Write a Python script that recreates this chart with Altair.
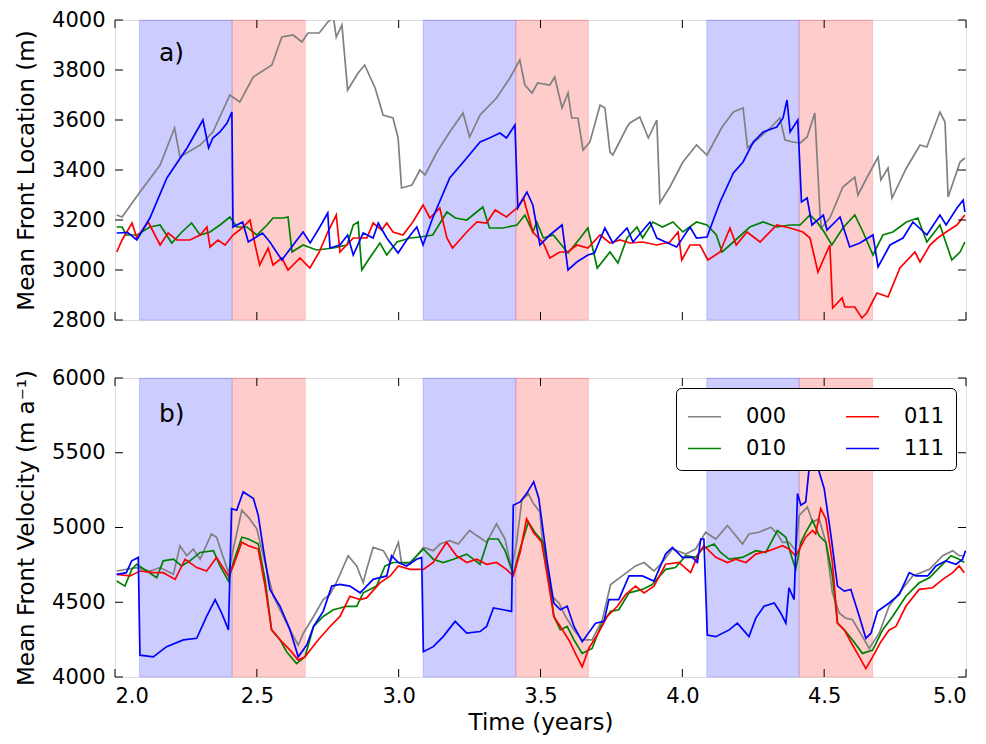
import altair as alt
import pandas as pd

# ---------------- data ----------------
series_names = ["000", "010", "011", "111"]
color_domain = ["000", "010", "011", "111"]
color_range = ["#808080", "#008000", "#ff0000", "#0000ff"]
# legend is filled column by column: (000, 010) in column 1, (011, 111) in column 2
legend_values = ["000", "010", "011", "111"]

# Panel a) Mean front location (m)
loc_000_t = [2.006, 2.025, 2.088, 2.159, 2.21, 2.229, 2.30, 2.345, 2.405, 2.44, 2.487, 2.553, 2.588, 2.628, 2.659, 2.68, 2.72, 2.75, 2.77, 2.78, 2.80, 2.82, 2.857, 2.88, 2.917, 2.945, 2.98, 2.998, 3.01, 3.047, 3.075, 3.093, 3.135, 3.18, 3.227, 3.25, 3.287, 3.345, 3.392, 3.427, 3.445, 3.47, 3.49, 3.533, 3.55, 3.576, 3.597, 3.61, 3.632, 3.65, 3.674, 3.71, 3.727, 3.745, 3.755, 3.805, 3.815, 3.85, 3.88, 3.91, 3.921, 3.956, 4.002, 4.05, 4.087, 4.14, 4.18, 4.214, 4.23, 4.274, 4.31, 4.344, 4.362, 4.39, 4.415, 4.44, 4.467, 4.485, 4.49, 4.52, 4.566, 4.608, 4.619, 4.65, 4.69, 4.70, 4.725, 4.739, 4.79, 4.838, 4.862, 4.908, 4.926, 4.937, 4.979, 4.996]
loc_000_v = [3220, 3212, 3312, 3420, 3568, 3452, 3500, 3552, 3700, 3672, 3772, 3820, 3932, 3940, 3912, 3948, 3948, 3992, 4010, 3932, 3980, 3720, 3788, 3820, 3728, 3620, 3608, 3528, 3328, 3340, 3400, 3380, 3472, 3552, 3628, 3532, 3620, 3688, 3768, 3840, 3740, 3708, 3748, 3740, 3772, 3648, 3708, 3608, 3608, 3480, 3512, 3660, 3648, 3472, 3460, 3572, 3588, 3612, 3528, 3600, 3268, 3332, 3432, 3500, 3460, 3572, 3632, 3648, 3488, 3532, 3568, 3608, 3520, 3512, 3508, 3532, 3628, 3232, 3168, 3208, 3332, 3372, 3300, 3368, 3452, 3360, 3408, 3288, 3408, 3500, 3492, 3632, 3592, 3292, 3432, 3448]

loc_010_t = [2.006, 2.025, 2.04, 2.077, 2.123, 2.159, 2.20, 2.236, 2.27, 2.30, 2.335, 2.37, 2.405, 2.43, 2.465, 2.50, 2.536, 2.557, 2.592, 2.61, 2.624, 2.663, 2.71, 2.77, 2.818, 2.84, 2.857, 2.87, 2.90, 2.934, 2.958, 2.994, 3.04, 3.075, 3.12, 3.17, 3.20, 3.24, 3.297, 3.32, 3.368, 3.417, 3.445, 3.473, 3.487, 3.51, 3.545, 3.597, 3.64, 3.667, 3.70, 3.745, 3.773, 3.805, 3.84, 3.86, 3.896, 3.93, 3.967, 4.002, 4.05, 4.087, 4.12, 4.14, 4.18, 4.238, 4.285, 4.333, 4.38, 4.415, 4.45, 4.475, 4.50, 4.527, 4.566, 4.608, 4.637, 4.672, 4.707, 4.742, 4.79, 4.83, 4.862, 4.908, 4.95, 4.979, 4.996]
loc_010_v = [3172, 3172, 3140, 3140, 3172, 3180, 3108, 3152, 3188, 3140, 3152, 3180, 3212, 3172, 3172, 3140, 3180, 3208, 3208, 3212, 3072, 3100, 3080, 3088, 3100, 3180, 3192, 3000, 3052, 3108, 3060, 3112, 3128, 3132, 3140, 3232, 3208, 3200, 3252, 3168, 3168, 3180, 3220, 3152, 3192, 3128, 3140, 3068, 3128, 3168, 3008, 3072, 3028, 3128, 3172, 3128, 3192, 3172, 3192, 3152, 3192, 3180, 3140, 3072, 3112, 3172, 3192, 3172, 3180, 3180, 3220, 3192, 3152, 3100, 3168, 3220, 3152, 3060, 3140, 3152, 3192, 3208, 3112, 3180, 3040, 3072, 3112]

loc_011_t = [2.006, 2.025, 2.06, 2.077, 2.117, 2.159, 2.187, 2.218, 2.264, 2.30, 2.324, 2.335, 2.363, 2.388, 2.416, 2.448, 2.476, 2.494, 2.51, 2.54, 2.557, 2.588, 2.61, 2.652, 2.687, 2.72, 2.75, 2.78, 2.793, 2.84, 2.888, 2.91, 2.94, 2.958, 2.98, 3.015, 3.05, 3.086, 3.11, 3.145, 3.17, 3.19, 3.24, 3.276, 3.31, 3.34, 3.38, 3.417, 3.44, 3.473, 3.51, 3.533, 3.568, 3.597, 3.628, 3.667, 3.71, 3.745, 3.78, 3.815, 3.86, 3.91, 3.956, 3.985, 3.998, 4.027, 4.062, 4.09, 4.133, 4.168, 4.19, 4.228, 4.274, 4.333, 4.38, 4.425, 4.45, 4.478, 4.52, 4.53, 4.563, 4.573, 4.608, 4.633, 4.65, 4.686, 4.707, 4.725, 4.767, 4.82, 4.838, 4.873, 4.90, 4.93, 4.968, 4.996]
loc_011_v = [3072, 3120, 3188, 3128, 3192, 3100, 3148, 3120, 3120, 3140, 3172, 3092, 3120, 3100, 3140, 3168, 3200, 3100, 3020, 3088, 3020, 3048, 3000, 3048, 3008, 3072, 3152, 3220, 3072, 3128, 3128, 3188, 3160, 3188, 3152, 3140, 3192, 3260, 3208, 3248, 3128, 3088, 3152, 3192, 3188, 3240, 3212, 3248, 3288, 3152, 3108, 3048, 3072, 3072, 3100, 3088, 3140, 3108, 3120, 3108, 3112, 3100, 3112, 3152, 3040, 3100, 3100, 3040, 3072, 3168, 3100, 3152, 3112, 3180, 3168, 3152, 3128, 2992, 3100, 2848, 2888, 2852, 2852, 2808, 2828, 2908, 2900, 2892, 3008, 3072, 3032, 3100, 3128, 3152, 3180, 3220]

loc_111_t = [2.006, 2.045, 2.077, 2.123, 2.183, 2.254, 2.31, 2.33, 2.345, 2.37, 2.395, 2.412, 2.416, 2.45, 2.47, 2.52, 2.546, 2.588, 2.628, 2.663, 2.688, 2.72, 2.75, 2.758, 2.793, 2.82, 2.84, 2.875, 2.91, 2.928, 2.958, 2.998, 3.033, 3.064, 3.086, 3.12, 3.18, 3.24, 3.287, 3.32, 3.357, 3.38, 3.41, 3.42, 3.452, 3.473, 3.498, 3.533, 3.576, 3.597, 3.628, 3.667, 3.69, 3.727, 3.755, 3.805, 3.826, 3.886, 3.91, 3.98, 4.027, 4.05, 4.087, 4.133, 4.18, 4.214, 4.25, 4.285, 4.333, 4.355, 4.369, 4.38, 4.407, 4.42, 4.44, 4.457, 4.497, 4.51, 4.556, 4.59, 4.626, 4.672, 4.69, 4.732, 4.778, 4.813, 4.862, 4.908, 4.93, 4.968, 4.99, 4.996]
loc_111_v = [3148, 3150, 3120, 3208, 3368, 3488, 3600, 3488, 3528, 3552, 3588, 3632, 3172, 3192, 3112, 3148, 3112, 3040, 3100, 3152, 3108, 3168, 3228, 3088, 3100, 3140, 3060, 3148, 3128, 3188, 3128, 3068, 3128, 3172, 3100, 3208, 3368, 3448, 3512, 3528, 3548, 3528, 3580, 3248, 3312, 3260, 3100, 3140, 3180, 3000, 3032, 3060, 3068, 3168, 3108, 3168, 3112, 3192, 3128, 3092, 3172, 3128, 3132, 3272, 3388, 3432, 3512, 3552, 3572, 3608, 3680, 3552, 3600, 3272, 3288, 3180, 3220, 3160, 3212, 3092, 3108, 3140, 3012, 3100, 3128, 3192, 3140, 3220, 3180, 3248, 3280, 3232]

# Panel b) Mean front velocity (m/a)
vel_000_t = [2.006, 2.076, 2.123, 2.159, 2.206, 2.229, 2.253, 2.276, 2.30, 2.34, 2.358, 2.40, 2.417, 2.447, 2.47, 2.50, 2.523, 2.558, 2.593, 2.623, 2.646, 2.664, 2.70, 2.734, 2.758, 2.78, 2.822, 2.852, 2.875, 2.887, 2.91, 2.946, 2.97, 2.999, 3.01, 3.04, 3.087, 3.122, 3.146, 3.18, 3.21, 3.25, 3.275, 3.31, 3.345, 3.375, 3.398, 3.416, 3.434, 3.457, 3.475, 3.498, 3.506, 3.541, 3.565, 3.588, 3.618, 3.647, 3.682, 3.718, 3.747, 3.788, 3.835, 3.865, 3.90, 3.929, 3.965, 4.012, 4.047, 4.082, 4.118, 4.159, 4.188, 4.212, 4.235, 4.27, 4.312, 4.335, 4.353, 4.376, 4.40, 4.412, 4.441, 4.459, 4.482, 4.506, 4.529, 4.553, 4.576, 4.60, 4.635, 4.659, 4.694, 4.729, 4.765, 4.812, 4.871, 4.918, 4.953, 4.976, 4.994]
vel_000_v = [4709, 4732, 4709, 4732, 4687, 4878, 4811, 4856, 4788, 4957, 4935, 4698, 4856, 5115, 5070, 4991, 4811, 4540, 4405, 4293, 4214, 4293, 4405, 4518, 4552, 4630, 4811, 4743, 4630, 4720, 4867, 4845, 4766, 4901, 4766, 4754, 4867, 4845, 4890, 4912, 4890, 4980, 4946, 4901, 5025, 4923, 4720, 4901, 5182, 5227, 5160, 5104, 4923, 4540, 4495, 4405, 4315, 4248, 4248, 4383, 4619, 4676, 4743, 4766, 4709, 4766, 4856, 4822, 4856, 4968, 4923, 5013, 4946, 4890, 4957, 4968, 5002, 4957, 4901, 4901, 4845, 5081, 5137, 5036, 5058, 4901, 4563, 4428, 4394, 4383, 4270, 4191, 4293, 4473, 4563, 4676, 4720, 4811, 4845, 4811, 4811]

vel_010_t = [2.006, 2.035, 2.059, 2.076, 2.112, 2.147, 2.17, 2.206, 2.235, 2.264, 2.30, 2.347, 2.37, 2.40, 2.417, 2.447, 2.47, 2.505, 2.529, 2.552, 2.582, 2.605, 2.64, 2.67, 2.70, 2.734, 2.77, 2.817, 2.852, 2.875, 2.922, 2.952, 2.981, 3.04, 3.087, 3.122, 3.157, 3.193, 3.24, 3.287, 3.316, 3.351, 3.375, 3.404, 3.428, 3.457, 3.48, 3.51, 3.524, 3.547, 3.57, 3.594, 3.618, 3.647, 3.682, 3.712, 3.747, 3.776, 3.812, 3.859, 3.894, 3.941, 3.976, 4.012, 4.047, 4.071, 4.112, 4.135, 4.165, 4.212, 4.259, 4.294, 4.335, 4.365, 4.388, 4.40, 4.418, 4.435, 4.459, 4.482, 4.506, 4.529, 4.547, 4.571, 4.60, 4.635, 4.671, 4.706, 4.741, 4.788, 4.835, 4.871, 4.906, 4.947, 4.976, 4.994]
vel_010_v = [4642, 4608, 4720, 4754, 4709, 4664, 4777, 4788, 4743, 4777, 4833, 4845, 4743, 4642, 4766, 4935, 4923, 4890, 4653, 4315, 4248, 4169, 4090, 4135, 4338, 4405, 4450, 4473, 4473, 4563, 4608, 4743, 4766, 4766, 4856, 4788, 4766, 4788, 4822, 4754, 4923, 4923, 4845, 4687, 4856, 5036, 4968, 4901, 4743, 4405, 4315, 4338, 4248, 4158, 4191, 4338, 4439, 4450, 4563, 4586, 4619, 4720, 4732, 4811, 4800, 4856, 4890, 4833, 4788, 4800, 4845, 4833, 4980, 4935, 4788, 4720, 4901, 4968, 5047, 4946, 4901, 4676, 4360, 4315, 4248, 4158, 4180, 4315, 4405, 4540, 4630, 4664, 4732, 4811, 4788, 4766]

vel_011_t = [2.006, 2.053, 2.088, 2.135, 2.17, 2.212, 2.247, 2.288, 2.323, 2.358, 2.40, 2.417, 2.447, 2.47, 2.505, 2.529, 2.552, 2.588, 2.617, 2.646, 2.67, 2.711, 2.758, 2.793, 2.828, 2.864, 2.887, 2.934, 2.97, 2.999, 3.04, 3.087, 3.122, 3.169, 3.204, 3.24, 3.275, 3.31, 3.345, 3.38, 3.404, 3.428, 3.451, 3.475, 3.504, 3.524, 3.547, 3.57, 3.60, 3.629, 3.647, 3.67, 3.70, 3.735, 3.771, 3.80, 3.835, 3.865, 3.90, 3.941, 3.988, 4.029, 4.059, 4.076, 4.118, 4.159, 4.188, 4.224, 4.259, 4.306, 4.353, 4.376, 4.40, 4.435, 4.459, 4.47, 4.488, 4.506, 4.529, 4.547, 4.571, 4.60, 4.624, 4.647, 4.671, 4.70, 4.729, 4.753, 4.788, 4.835, 4.882, 4.918, 4.953, 4.976, 4.994]
vel_011_v = [4687, 4676, 4709, 4698, 4698, 4653, 4788, 4732, 4709, 4800, 4676, 4743, 4901, 4878, 4856, 4608, 4315, 4236, 4180, 4113, 4135, 4236, 4338, 4405, 4540, 4518, 4529, 4630, 4676, 4743, 4720, 4720, 4766, 4901, 4811, 4766, 4788, 4754, 4766, 4720, 4676, 4833, 5058, 4968, 4901, 4676, 4405, 4338, 4248, 4135, 4068, 4191, 4281, 4405, 4473, 4552, 4608, 4563, 4608, 4754, 4766, 4698, 4833, 4878, 4800, 4766, 4788, 4766, 4822, 4845, 4878, 4856, 4811, 4935, 4980, 4957, 5126, 5058, 4766, 4360, 4315, 4214, 4135, 4056, 4135, 4236, 4315, 4338, 4473, 4586, 4597, 4653, 4698, 4743, 4698]

vel_111_t = [2.006, 2.04, 2.059, 2.082, 2.088, 2.135, 2.182, 2.241, 2.288, 2.323, 2.353, 2.376, 2.40, 2.411, 2.429, 2.452, 2.488, 2.505, 2.523, 2.546, 2.582, 2.617, 2.646, 2.676, 2.70, 2.734, 2.764, 2.793, 2.828, 2.864, 2.887, 2.91, 2.958, 2.975, 2.999, 3.028, 3.063, 3.081, 3.087, 3.122, 3.157, 3.199, 3.24, 3.287, 3.31, 3.334, 3.369, 3.398, 3.404, 3.428, 3.451, 3.476, 3.494, 3.524, 3.547, 3.57, 3.594, 3.618, 3.647, 3.694, 3.724, 3.741, 3.776, 3.812, 3.859, 3.90, 3.941, 3.965, 4.0, 4.035, 4.053, 4.065, 4.076, 4.088, 4.118, 4.165, 4.194, 4.235, 4.259, 4.288, 4.324, 4.347, 4.365, 4.376, 4.394, 4.40, 4.406, 4.418, 4.435, 4.447, 4.47, 4.50, 4.524, 4.547, 4.571, 4.594, 4.624, 4.647, 4.665, 4.688, 4.729, 4.765, 4.80, 4.824, 4.865, 4.894, 4.929, 4.965, 4.988, 4.998]
vel_111_v = [4687, 4698, 4777, 4800, 4146, 4135, 4203, 4248, 4259, 4405, 4518, 4428, 4315, 5126, 5115, 5239, 5194, 5081, 4856, 4585, 4473, 4315, 4135, 4214, 4338, 4439, 4608, 4619, 4608, 4563, 4608, 4653, 4676, 4811, 4766, 4743, 4788, 4800, 4169, 4203, 4270, 4372, 4293, 4304, 4338, 4462, 4450, 4439, 5149, 5171, 5227, 5306, 5194, 4766, 4495, 4450, 4473, 4338, 4236, 4360, 4372, 4518, 4518, 4676, 4676, 4642, 4822, 4867, 4800, 4800, 4766, 4923, 4923, 4281, 4270, 4315, 4360, 4270, 4394, 4473, 4495, 4428, 4360, 4597, 4518, 4856, 5227, 5149, 5171, 5396, 5450, 5261, 4946, 4608, 4574, 4585, 4405, 4259, 4293, 4439, 4495, 4552, 4698, 4676, 4676, 4743, 4777, 4754, 4788, 4845]

# forcing periods (years)
blue_start = [2.086, 3.086, 4.086]
blue_end = [2.413, 3.413, 4.412]
red_start = [2.413, 3.413, 4.412]
red_end = [2.671, 3.669, 4.671]

x_ticks = [2.0, 2.5, 3.0, 3.5, 4.0, 4.5, 5.0]
loc_ticks = [2800, 3000, 3200, 3400, 3600, 3800, 4000]
vel_ticks = [4000, 4500, 5000, 5500, 6000]

# ---------------- build ----------------
W = 851
H1 = 300
H2 = 299
FONT = "DejaVu Sans"
TICK_FS = 21
TITLE_FS = 23


def long_df(ts, vs):
    rows = []
    for name, t, v in zip(series_names, ts, vs):
        for a, b in zip(t, v):
            rows.append({"series": name, "t": a, "v": b})
    return pd.DataFrame(rows)


loc_df = long_df([loc_000_t, loc_010_t, loc_011_t, loc_111_t],
                 [loc_000_v, loc_010_v, loc_011_v, loc_111_v])
vel_df = long_df([vel_000_t, vel_010_t, vel_011_t, vel_111_t],
                 [vel_000_v, vel_010_v, vel_011_v, vel_111_v])

bands_df = pd.DataFrame({
    "start": blue_start + red_start,
    "end": blue_end + red_end,
    "kind": ["cool"] * 3 + ["warm"] * 3,
})


def panel(df, yticks, ydomain, ytitle, H, show_x, label_df, legend):
    xscale = alt.Scale(domain=[2, 5], nice=False, zero=False)
    yscale = alt.Scale(domain=ydomain, nice=False, zero=False)
    if show_x:
        xaxis = alt.Axis(values=x_ticks, format=".1f", ticks=False, domain=False,
                         grid=False, labelFontSize=TICK_FS, labelPadding=8,
                         title="Time (years)", titleFontSize=TITLE_FS,
                         titleFontWeight="normal", titlePadding=5)
    else:
        xaxis = None
    yaxis = alt.Axis(values=yticks, format="d", ticks=False, domain=False, grid=False,
                     labelFontSize=TICK_FS, labelPadding=10, title=ytitle,
                     titleFontSize=TITLE_FS, titleFontWeight="normal", titlePadding=13)

    band_scale = alt.Scale(domain=["cool", "warm"], range=["#0000ff", "#ff0000"])
    bands = alt.Chart(bands_df).mark_rect(strokeWidth=1).encode(
        x=alt.X("start:Q", scale=xscale, axis=xaxis),
        x2="end:Q",
        fill=alt.Fill("kind:N", scale=band_scale, legend=None),
        stroke=alt.Stroke("kind:N", scale=band_scale, legend=None),
        fillOpacity=alt.value(0.2),
        strokeOpacity=alt.value(0.15),
    )

    if legend:
        leg = alt.Legend(orient="none", legendX=561, legendY=10, columns=2, title=None,
                         values=legend_values,
                         symbolType="stroke", symbolSize=1089, symbolStrokeWidth=1.6,
                         labelFontSize=21, labelOffset=24, columnPadding=55, rowPadding=4,
                         padding=11, fillColor="white", strokeColor="black",
                         cornerRadius=5, labelFont=FONT, labelColor="black")
    else:
        leg = None

    lines = alt.Chart(df).mark_line(strokeWidth=1.7, clip=True).encode(
        x=alt.X("t:Q", scale=xscale, axis=xaxis),
        y=alt.Y("v:Q", scale=yscale, axis=yaxis),
        color=alt.Color("series:N", scale=alt.Scale(domain=color_domain, range=color_range), legend=leg),
        order="t:Q",
    )

    ydf = pd.DataFrame({"v": yticks})
    xdf = pd.DataFrame({"t": x_ticks})
    yt_left = alt.Chart(ydf).mark_rule(color="black", strokeWidth=1).encode(
        y=alt.Y("v:Q", scale=yscale), x=alt.value(0), x2=alt.value(8))
    yt_right = alt.Chart(ydf).mark_rule(color="black", strokeWidth=1).encode(
        y=alt.Y("v:Q", scale=yscale), x=alt.value(W - 8), x2=alt.value(W))
    xt_top = alt.Chart(xdf).mark_rule(color="black", strokeWidth=1).encode(
        x=alt.X("t:Q", scale=xscale), y=alt.value(0), y2=alt.value(8))
    xt_bot = alt.Chart(xdf).mark_rule(color="black", strokeWidth=1).encode(
        x=alt.X("t:Q", scale=xscale), y=alt.value(H - 8), y2=alt.value(H))

    label = alt.Chart(label_df).mark_text(fontSize=25, align="left", baseline="middle",
                                          font=FONT, color="black").encode(
        x=alt.X("t:Q", scale=xscale), y=alt.Y("v:Q", scale=yscale), text="label:N")

    return alt.layer(bands, lines, yt_left, yt_right, xt_top, xt_bot, label).properties(
        width=W, height=H)


label_a = pd.DataFrame({"t": [2.155], "v": [3868], "label": ["a)"]})
label_b = pd.DataFrame({"t": [2.155], "v": [5760], "label": ["b)"]})

top = panel(loc_df, loc_ticks, [2800, 4000], "Mean Front Location (m)", H1, False, label_a, False)
bottom = panel(vel_df, vel_ticks, [4000, 6000], "Mean Front Velocity (m a\u207b\u00b9)", H2, True, label_b, True)

chart = alt.vconcat(top, bottom, spacing=35).resolve_scale(
    color="independent", fill="independent", stroke="independent"
).properties(
    padding={"left": 7, "top": 0, "right": 8, "bottom": 0},
    background="white",
).configure_view(
    stroke="black", strokeWidth=1.5
).configure(
    font=FONT
).configure_axis(
    labelColor="black", titleColor="black", labelFont=FONT, titleFont=FONT
)

chart.save("out.html", embed_options={"renderer": "svg", "actions": False})
